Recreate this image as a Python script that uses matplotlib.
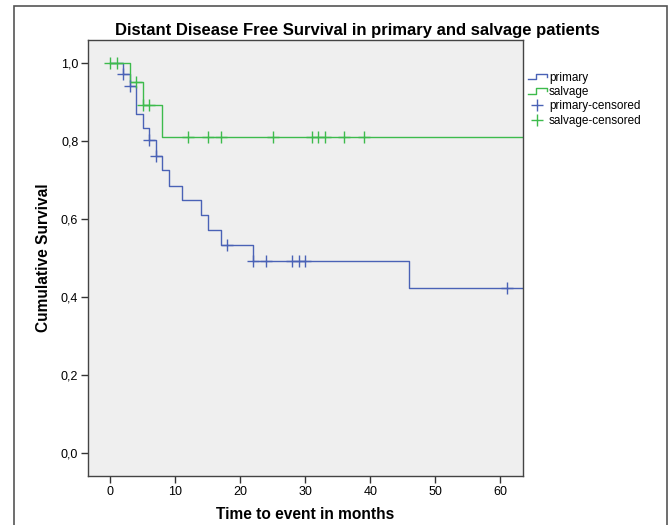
import numpy as np
import matplotlib

matplotlib.use('Agg')

import matplotlib.pyplot as plt
from matplotlib.legend_handler import HandlerBase
from matplotlib.lines import Line2D
from matplotlib.patches import Rectangle

plt.rcParams['font.family'] = ['Liberation Sans', 'DejaVu Sans']

# Kaplan-Meier steps (months, cumulative survival)
primary_times = [0, 2, 3, 4, 5, 6, 7, 8, 9, 11, 14, 15, 17, 22, 46]
primary_surv = [1.0, 0.973, 0.943, 0.870, 0.834, 0.802, 0.763, 0.725, 0.686,
                0.649, 0.611, 0.573, 0.534, 0.492, 0.422]
primary_censored = [2, 3, 6, 7, 18, 22, 24, 28, 29, 30, 61]

salvage_times = [0, 3, 5, 8]
salvage_surv = [1.0, 0.951, 0.892, 0.81]
salvage_censored = [0, 1, 4, 5, 6, 12, 15, 17, 25, 31, 32, 33, 36, 39]

followup_end = 64

yticks = [0.0, 0.2, 0.4, 0.6, 0.8, 1.0]
xticks = [0, 10, 20, 30, 40, 50, 60]

blue = '#4a62b6'
green = '#3dbb4c'


def surv_at(times, surv, t):
    i = np.searchsorted(times, t, side='right') - 1
    return surv[i]


# legend handle drawn as a little step, like SPSS does
class StepHandler(HandlerBase):
    def create_artists(self, legend, orig_handle, xdescent, ydescent,
                       width, height, fontsize, trans):
        x0 = -xdescent
        xm = x0 + width * 0.45
        xe = x0 + width
        ylo = -ydescent + height * 0.15
        yhi = -ydescent + height * 0.8
        ln = Line2D([x0, xm, xm, xe, xe],
                    [ylo, ylo, yhi, yhi, yhi - height * 0.35],
                    color=orig_handle.get_color(), lw=1, transform=trans)
        return [ln]


fig = plt.figure(figsize=(6.7, 5.25), dpi=100)
fig.patch.set_facecolor('white')

# outer frame
fig.add_artist(Rectangle((14 / 670, -0.05), 653 / 670, 1.05 - 6 / 525,
                         transform=fig.transFigure, fill=False,
                         edgecolor='#555555', lw=1.2))

ax = fig.add_axes([88 / 670, 1 - 476 / 525, 435 / 670, 436 / 525])
ax.set_facecolor('#efefef')

pt = list(primary_times) + [followup_end]
ps = list(primary_surv) + [primary_surv[-1]]
st = list(salvage_times) + [followup_end]
ss = list(salvage_surv) + [salvage_surv[-1]]

l1, = ax.step(pt, ps, where='post', color=blue, lw=1, label='primary')
l2, = ax.step(st, ss, where='post', color=green, lw=1, label='salvage')

pc_y = [surv_at(primary_times, primary_surv, t) for t in primary_censored]
sc_y = [surv_at(salvage_times, salvage_surv, t) for t in salvage_censored]
l3, = ax.plot(primary_censored, pc_y, '+', color=blue, ms=8, mew=1,
              label='primary-censored')
l4, = ax.plot(salvage_censored, sc_y, '+', color=green, ms=8, mew=1,
              label='salvage-censored')

ax.set_xlim(-3.4, 63.5)
ax.set_ylim(-0.06, 1.06)
ax.set_xticks(xticks)
ax.set_xticklabels([str(v) for v in xticks], fontsize=9)
ax.set_yticks(yticks)
ax.set_yticklabels([('%.1f' % v).replace('.', ',') for v in yticks], fontsize=9)
ax.tick_params(direction='out', length=5, width=1, color='#333333', pad=2)

for s in ax.spines.values():
    s.set_color('#444444')
    s.set_linewidth(1)

ax.set_xlabel('Time to event in months', fontsize=11.2, fontweight='bold',
              labelpad=7)
ax.set_ylabel('Cumulative Survival', fontsize=11.2, fontweight='bold',
              labelpad=7)

fig.text(357 / 670, 1 - 30 / 525,
         'Distant Disease Free Survival in primary and salvage patients',
         ha='center', va='center', fontsize=12, fontweight='bold')

leg = fig.legend(handles=[l1, l2, l3, l4], loc='upper left',
                 bbox_to_anchor=(523 / 670, 1 - 67 / 525),
                 frameon=False, fontsize=8.5, handlelength=1.6,
                 handletextpad=0.2, labelspacing=0.2, borderaxespad=0,
                 handler_map={l1: StepHandler(), l2: StepHandler()})

plt.savefig('out.png', dpi=100)
